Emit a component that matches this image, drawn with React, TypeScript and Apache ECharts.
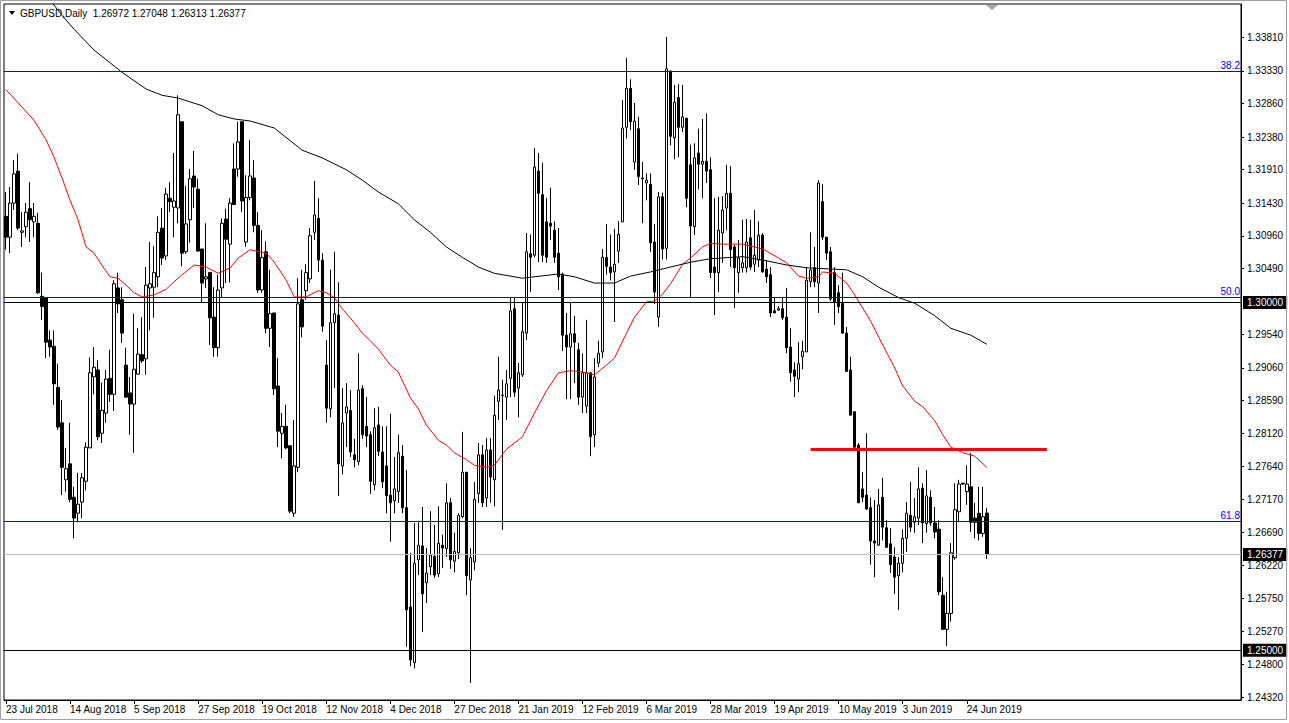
import React, { useEffect, useRef } from "react";
import * as echarts from "echarts";

const symbolName = "GBPUSD,Daily";

const opens = [
  1.3124, 1.3094, 1.3143, 1.3189, 1.3101, 1.3109, 1.3135, 1.3116, 1.3114, 1.3009,
  1.3007, 1.2946, 1.2937, 1.2878, 1.2827, 1.2745, 1.2768, 1.2720, 1.2697, 1.2713,
  1.2743, 1.2791, 1.2893, 1.2903, 1.2812, 1.2841, 1.2891, 1.2868, 1.3021, 1.3004,
  1.2910, 1.2870, 1.2854, 1.2897, 1.2925, 1.2919, 1.3021, 1.3022, 1.3037, 1.3107,
  1.3067, 1.3150, 1.3137, 1.3136, 1.3260, 1.3073, 1.3119, 1.3182, 1.3163, 1.3077,
  1.3034, 1.3043, 1.2979, 1.2935, 1.3021, 1.3120, 1.3084, 1.3192, 1.3192, 1.3260,
  1.3087, 1.3151, 1.3179, 1.3111, 1.3018, 1.3073, 1.2963, 1.2985, 1.2880, 1.2812,
  1.2822, 1.2794, 1.2697, 1.2763, 1.3004, 1.3017, 1.3034, 1.3101, 1.3121, 1.3061,
  1.2910, 1.2847, 1.2971, 1.2982, 1.2765, 1.2841, 1.2845, 1.2781, 1.2771, 1.2876,
  1.2822, 1.2810, 1.2738, 1.2824, 1.2785, 1.2765, 1.2723, 1.2715, 1.2728, 1.2779,
  1.2705, 1.2562, 1.2482, 1.2630, 1.2650, 1.2597, 1.2620, 1.2635, 1.2610, 1.2651,
  1.2646, 1.2712, 1.2628, 1.2640, 1.2692, 1.2756, 1.2601, 1.2627, 1.2725, 1.2781,
  1.2719, 1.2788, 1.2745, 1.2858, 1.2867, 1.2864, 1.2891, 1.2991, 1.2877, 1.2896,
  1.2956, 1.3070, 1.3068, 1.3189, 1.3155, 1.3116, 1.3114, 1.3104, 1.3071, 1.3041,
  1.2953, 1.2936, 1.2955, 1.2932, 1.2864, 1.2851, 1.2899, 1.2810, 1.2913, 1.2929,
  1.3065, 1.3051, 1.3044, 1.3074, 1.3116, 1.3252, 1.3308, 1.3202, 1.3250, 1.3179,
  1.3172, 1.3170, 1.3087, 1.2979, 1.3152, 1.3078, 1.3333, 1.3237, 1.3295, 1.3252,
  1.3265, 1.3198, 1.3109, 1.3215, 1.3199, 1.3203, 1.3191, 1.3051, 1.3043, 1.3100,
  1.3136, 1.3157, 1.3080, 1.3043, 1.3050, 1.3050, 1.3093, 1.3055, 1.3061, 1.3097,
  1.3048, 1.3040, 1.2988, 1.2989, 1.2991, 1.2979, 1.2936, 1.2903, 1.2890, 1.2922,
  1.2929, 1.3030, 1.3050, 1.3028, 1.3145, 1.3094, 1.3073, 1.3043, 1.3014, 1.2999,
  1.2956, 1.2903, 1.2843, 1.2795, 1.2732, 1.2723, 1.2705, 1.2657, 1.2651, 1.2720,
  1.2676, 1.2653, 1.2634, 1.2607, 1.2625, 1.2661, 1.2694, 1.2684, 1.2690, 1.2733,
  1.2682, 1.2720, 1.2683, 1.2674, 1.2579, 1.2530, 1.2553, 1.2633, 1.2699, 1.2740,
  1.2728, 1.2735, 1.2690, 1.2697, 1.2668, 1.26972,
];

const highs = [
  1.3159, 1.3166, 1.3205, 1.3214, 1.3130, 1.3143, 1.3173, 1.3143, 1.3129, 1.3043,
  1.3008, 1.2960, 1.2960, 1.2912, 1.2860, 1.2791, 1.2827, 1.2735, 1.2755, 1.2755,
  1.2799, 1.2921, 1.2936, 1.2917, 1.2885, 1.2903, 1.2932, 1.3032, 1.3043, 1.3022,
  1.2935, 1.2893, 1.2984, 1.2963, 1.2979, 1.3051, 1.3087, 1.3081, 1.3124, 1.3136,
  1.3165, 1.3173, 1.3215, 1.3298, 1.3260, 1.3168, 1.3192, 1.3218, 1.3178, 1.3077,
  1.3114, 1.3043, 1.3022, 1.3040, 1.3121, 1.3135, 1.3150, 1.3229, 1.3260, 1.3260,
  1.3183, 1.3234, 1.3205, 1.3130, 1.3104, 1.3088, 1.3047, 1.2985, 1.2920, 1.2841,
  1.2853, 1.2794, 1.2831, 1.3035, 1.3047, 1.3055, 1.3107, 1.3175, 1.3150, 1.3071,
  1.2946, 1.3047, 1.3073, 1.3029, 1.2877, 1.2884, 1.2874, 1.2804, 1.2927, 1.2881,
  1.2864, 1.2815, 1.2848, 1.2850, 1.2822, 1.2822, 1.2840, 1.2778, 1.2810, 1.2795,
  1.2759, 1.2640, 1.2683, 1.2684, 1.2706, 1.2647, 1.2700, 1.2680, 1.2707, 1.2666,
  1.2740, 1.2719, 1.2669, 1.2697, 1.2814, 1.2756, 1.2647, 1.2742, 1.2798, 1.2795,
  1.2805, 1.2805, 1.2866, 1.2922, 1.2889, 1.2903, 1.3007, 1.3008, 1.2913, 1.3001,
  1.3100, 1.3098, 1.3222, 1.3215, 1.3201, 1.3150, 1.3165, 1.3117, 1.3107, 1.3043,
  1.2985, 1.3001, 1.2981, 1.2942, 1.2927, 1.2975, 1.2899, 1.2920, 1.2945, 1.3077,
  1.3113, 1.3098, 1.3106, 1.3117, 1.3291, 1.3352, 1.3321, 1.3287, 1.3267, 1.3202,
  1.3186, 1.3186, 1.3113, 1.3159, 1.3158, 1.3382, 1.3333, 1.3313, 1.3314, 1.3313,
  1.3265, 1.3227, 1.3229, 1.3250, 1.3264, 1.3272, 1.3209, 1.3150, 1.3152, 1.3153,
  1.3198, 1.3196, 1.3083, 1.3090, 1.3119, 1.3120, 1.3119, 1.3133, 1.3117, 1.3100,
  1.3061, 1.3051, 1.3007, 1.2995, 1.3007, 1.3021, 1.2963, 1.2914, 1.2943, 1.2945,
  1.3051, 1.3101, 1.3080, 1.3176, 1.3170, 1.3094, 1.3080, 1.3051, 1.3025, 1.3043,
  1.2965, 1.2922, 1.2843, 1.2798, 1.2756, 1.2812, 1.2720, 1.2716, 1.2732, 1.2748,
  1.2687, 1.2676, 1.2648, 1.2634, 1.2674, 1.2713, 1.2742, 1.2719, 1.2763, 1.2740,
  1.2759, 1.2730, 1.2706, 1.2687, 1.2605, 1.2584, 1.2654, 1.2740, 1.2745, 1.2741,
  1.2766, 1.2784, 1.2712, 1.2735, 1.2735, 1.27048,
];

const lows = [
  1.3076, 1.3071, 1.3133, 1.3104, 1.3080, 1.3094, 1.3087, 1.3094, 1.3012, 1.2975,
  1.2920, 1.2922, 1.2853, 1.2817, 1.2723, 1.2728, 1.2713, 1.2661, 1.2684, 1.2690,
  1.2730, 1.2791, 1.2868, 1.2802, 1.2798, 1.2827, 1.2857, 1.2844, 1.2985, 1.2942,
  1.2863, 1.2810, 1.2784, 1.2896, 1.2913, 1.2896, 1.2960, 1.2978, 1.3022, 1.3054,
  1.3061, 1.3130, 1.3094, 1.3114, 1.3052, 1.3070, 1.3086, 1.3136, 1.3073, 1.3001,
  1.3021, 1.2939, 1.2922, 1.2922, 1.3008, 1.3028, 1.3029, 1.3140, 1.3181, 1.3130,
  1.3080, 1.3147, 1.3101, 1.3014, 1.3014, 1.2956, 1.2936, 1.2867, 1.2792, 1.2776,
  1.2789, 1.2697, 1.2692, 1.2756, 1.2950, 1.3004, 1.3028, 1.3090, 1.3044, 1.2958,
  1.2827, 1.2835, 1.2877, 1.2722, 1.2753, 1.2792, 1.2778, 1.2763, 1.2766, 1.2804,
  1.2792, 1.2725, 1.2730, 1.2779, 1.2733, 1.2697, 1.2656, 1.2697, 1.2712, 1.2697,
  1.2505, 1.2477, 1.2474, 1.2608, 1.2526, 1.2568, 1.2608, 1.2604, 1.2605, 1.2618,
  1.2634, 1.2617, 1.2612, 1.2631, 1.2690, 1.2579, 1.2453, 1.2615, 1.2712, 1.2706,
  1.2706, 1.2712, 1.2707, 1.2831, 1.2673, 1.2831, 1.2864, 1.2864, 1.2835, 1.2893,
  1.2946, 1.3015, 1.3065, 1.3058, 1.3058, 1.3057, 1.3090, 1.3057, 1.3018, 1.2930,
  1.2861, 1.2861, 1.2884, 1.2853, 1.2841, 1.2841, 1.2779, 1.2792, 1.2907, 1.2920,
  1.3040, 1.3032, 1.2972, 1.3057, 1.3116, 1.3236, 1.3248, 1.3191, 1.3169, 1.3114,
  1.3147, 1.3073, 1.2998, 1.2965, 1.3062, 1.3062, 1.3226, 1.3206, 1.3209, 1.3245,
  1.3137, 1.3008, 1.3097, 1.3163, 1.3150, 1.3172, 1.3035, 1.2982, 1.3015, 1.3057,
  1.3104, 1.3051, 1.2992, 1.3014, 1.3043, 1.3043, 1.3047, 1.3044, 1.3051, 1.3043,
  1.3028, 1.2979, 1.2985, 1.2988, 1.2975, 1.2927, 1.2886, 1.2864, 1.2871, 1.2904,
  1.2929, 1.3022, 1.3022, 1.2985, 1.3090, 1.3061, 1.3002, 1.2968, 1.2985, 1.2955,
  1.2900, 1.2838, 1.2788, 1.2712, 1.2713, 1.2702, 1.2623, 1.2605, 1.2651, 1.2658,
  1.2647, 1.2611, 1.2581, 1.2558, 1.2612, 1.2641, 1.2670, 1.2669, 1.2680, 1.2654,
  1.2669, 1.2679, 1.2661, 1.2579, 1.2530, 1.2506, 1.2541, 1.2630, 1.2684, 1.2738,
  1.2709, 1.2670, 1.2661, 1.2658, 1.2663, 1.26313,
];

const closes = [
  1.3094, 1.3143, 1.3185, 1.3107, 1.3103, 1.3130, 1.3119, 1.3124, 1.3014, 1.2994,
  1.2943, 1.2936, 1.2883, 1.2821, 1.2763, 1.2761, 1.2717, 1.2690, 1.2710, 1.2748,
  1.2792, 1.2899, 1.2907, 1.2807, 1.2845, 1.2890, 1.2868, 1.3027, 1.2998, 1.2956,
  1.2864, 1.2854, 1.2904, 1.2926, 1.2916, 1.3025, 1.3027, 1.3043, 1.3101, 1.3064,
  1.3156, 1.3145, 1.3146, 1.3270, 1.3071, 1.3113, 1.3178, 1.3166, 1.3074, 1.3028,
  1.3037, 1.2978, 1.2935, 1.3018, 1.3114, 1.3091, 1.3143, 1.3141, 1.3231, 1.3146,
  1.3151, 1.3182, 1.3111, 1.3018, 1.3065, 1.2963, 1.2984, 1.2876, 1.2815, 1.2822,
  1.2791, 1.2700, 1.2765, 1.2998, 1.2965, 1.3043, 1.3096, 1.3126, 1.3061, 1.2966,
  1.2848, 1.2971, 1.2984, 1.2768, 1.2827, 1.2850, 1.2785, 1.2774, 1.2874, 1.2810,
  1.2808, 1.2743, 1.2820, 1.2786, 1.2742, 1.2722, 1.2712, 1.2732, 1.2784, 1.2705,
  1.2558, 1.2486, 1.2625, 1.2651, 1.2581, 1.2611, 1.2637, 1.2608, 1.2654, 1.2647,
  1.2712, 1.2630, 1.2642, 1.2694, 1.2756, 1.2607, 1.2633, 1.2717, 1.2781, 1.2712,
  1.2788, 1.2749, 1.2838, 1.2874, 1.2866, 1.2883, 1.2988, 1.2871, 1.2899, 1.2958,
  1.3073, 1.3065, 1.3195, 1.3157, 1.3068, 1.3065, 1.3110, 1.3065, 1.3037, 1.2953,
  1.2936, 1.2955, 1.2943, 1.2864, 1.2899, 1.2899, 1.2807, 1.2893, 1.2927, 1.3065,
  1.3052, 1.3043, 1.3055, 1.3098, 1.3251, 1.3308, 1.3260, 1.3261, 1.3181, 1.3178,
  1.3176, 1.3086, 1.3015, 1.3152, 1.3077, 1.3336, 1.3239, 1.3288, 1.3252, 1.3267,
  1.3150, 1.3110, 1.3208, 1.3199, 1.3203, 1.3189, 1.3043, 1.3043, 1.3104, 1.3133,
  1.3157, 1.3076, 1.3050, 1.3064, 1.3057, 1.3087, 1.3051, 1.3068, 1.3097, 1.3044,
  1.3037, 1.2985, 1.2985, 1.2991, 1.2978, 1.2935, 1.2899, 1.2894, 1.2912, 1.2930,
  1.3032, 1.3047, 1.3030, 1.3172, 1.3094, 1.3071, 1.3005, 1.3001, 1.2994, 1.2956,
  1.2901, 1.2838, 1.2792, 1.2712, 1.2720, 1.2703, 1.2657, 1.2654, 1.2709, 1.2677,
  1.2648, 1.2623, 1.2605, 1.2625, 1.2661, 1.2697, 1.2677, 1.2692, 1.2732, 1.2683,
  1.2722, 1.2683, 1.2670, 1.2584, 1.2530, 1.2553, 1.2640, 1.2702, 1.2739, 1.2739,
  1.2739, 1.2684, 1.2684, 1.2668, 1.2692, 1.26377,
];

// 50-day moving average (red), read at sampled bars
const ma50Idx = [
  0, 4, 7, 10, 12, 14, 16, 18, 20, 22, 24, 26, 28, 30, 32, 34, 37, 40, 42, 44,
  47, 50, 53, 56, 58, 61, 65, 67, 70, 72, 75, 78, 80, 82, 84, 87, 89, 91, 93, 96,
  98, 101, 103, 105, 108, 110, 112, 115, 117, 120, 122, 125, 129, 132, 135, 138, 141, 144, 147, 150,
  152, 155, 157, 160, 162, 164, 166, 169, 171, 174, 176, 179, 184, 189, 193, 195, 198, 200, 203, 204,
  207, 210, 212, 216, 219, 222, 224, 227, 229, 232, 234, 236, 239, 242, 245,
];
const ma50Val = [
  1.3306, 1.3281, 1.3262, 1.3234, 1.3209, 1.3179, 1.3147, 1.3119, 1.3080, 1.3071,
  1.3053, 1.3037, 1.3035, 1.3025, 1.3014, 1.3008, 1.3011, 1.3019, 1.3030, 1.3040,
  1.3054, 1.3051, 1.3042, 1.3050, 1.3064, 1.3076, 1.3071, 1.3058, 1.3032, 1.3008,
  1.3008, 1.3017, 1.3014, 1.3007, 1.2991, 1.2971, 1.2956, 1.2945, 1.2933, 1.2910,
  1.2900, 1.2863, 1.2847, 1.2824, 1.2802, 1.2795, 1.2784, 1.2774, 1.2766, 1.2763,
  1.2766, 1.2789, 1.2807, 1.2841, 1.2873, 1.2899, 1.2902, 1.2900, 1.2896, 1.2910,
  1.2920, 1.2956, 1.2979, 1.3001, 1.3002, 1.3012, 1.3027, 1.3055, 1.3064, 1.3080,
  1.3085, 1.3084, 1.3084, 1.3077, 1.3064, 1.3057, 1.3038, 1.3035, 1.3037, 1.3044,
  1.3042, 1.3028, 1.3011, 1.2973, 1.2939, 1.2906, 1.2880, 1.2858, 1.2850, 1.2830,
  1.2810, 1.2792, 1.2784, 1.2779, 1.2763,
];

// 200-day moving average (black), read at sampled bars
const ma200Idx = [
  11, 14, 17, 22, 29, 35, 39, 43, 49, 53, 57, 61, 67, 74, 79, 85, 89, 93, 98, 102,
  106, 110, 114, 118, 122, 129, 138, 142, 147, 152, 156, 161, 166, 171, 176, 184, 190, 195, 200, 210,
  214, 218, 223, 227, 232, 236, 241, 245,
];
const ma200Val = [
  1.3435, 1.3413, 1.3393, 1.3363, 1.3331, 1.3307, 1.3298, 1.3294, 1.3283, 1.3270,
  1.3264, 1.3261, 1.3251, 1.3219, 1.3208, 1.3191, 1.3176, 1.3159, 1.3142, 1.3119,
  1.3101, 1.3080, 1.3065, 1.3051, 1.3042, 1.3035, 1.3041, 1.3037, 1.3028, 1.3028,
  1.3038, 1.3044, 1.3051, 1.3058, 1.3063, 1.3066, 1.3060, 1.3054, 1.3050, 1.3047,
  1.3037, 1.3022, 1.3007, 1.2999, 1.2981, 1.2963, 1.2953, 1.2940,
];

const dateTickLabels = [
  "23 Jul 2018", "14 Aug 2018", "5 Sep 2018", "27 Sep 2018", "19 Oct 2018", "12 Nov 2018",
  "4 Dec 2018", "27 Dec 2018", "21 Jan 2019", "12 Feb 2019", "6 Mar 2019", "28 Mar 2019",
  "19 Apr 2019", "10 May 2019", "3 Jun 2019", "24 Jun 2019",
];
const BARS_PER_DATE_LABEL = 16;
const SLOT_COUNT = 309;

const priceTicks = [
  1.3381, 1.3333, 1.3286, 1.3238, 1.3191, 1.3143, 1.3096, 1.3049, 1.2954, 1.2906,
  1.2859, 1.2812, 1.2764, 1.2717, 1.2669, 1.2622, 1.2575, 1.2527, 1.248, 1.2432,
];

const fibNames = ["38.2", "50.0", "61.8"];
const fibValues = [1.33322, 1.30072, 1.26851];
const roundLevels = [1.3, 1.25];
const resistanceLevel = 1.27895;
const resistanceFrom = 201;
const resistanceTo = 260;

const Y_MIN = 1.24284;
const Y_MAX = 1.34293;

const FONT = '"Liberation Sans", Arial, sans-serif';

export default function App() {
  const ref = useRef<HTMLDivElement>(null);

  useEffect(() => {
    if (!ref.current) return;
    const chart = echarts.init(ref.current, undefined, { renderer: "svg" });

    const slots = Array.from({ length: SLOT_COUNT }, (_, i) => String(i));
    const candles = opens.map((o, i) => [o, closes[i], lows[i], highs[i]]);
    const last = opens.length - 1;
    const lastPrice = closes[last];
    const isDateTick = (idx: number) =>
      idx % BARS_PER_DATE_LABEL === 0 && idx / BARS_PER_DATE_LABEL < dateTickLabels.length;

    const boxLabel = {
      show: true,
      position: "end",
      distance: 2,
      color: "#fff",
      backgroundColor: "#000",
      padding: [2, 4, 1, 4],
      fontSize: 10,
      fontFamily: FONT,
      formatter: (p: any) => Number(p.value).toFixed(5),
    };

    const levelSeries = (name: string, color: string, width: number, label: any, data: any[], z: number) => ({
      name,
      type: "line",
      data: [],
      silent: true,
      color,
      lineStyle: { color, width },
      markLine: {
        silent: true,
        symbol: ["none", "none"],
        animation: false,
        precision: 5,
        lineStyle: { color, width, type: "solid", opacity: 1 },
        label,
        emphasis: { disabled: true },
        data,
      },
      z,
    });

    const title = `${symbolName}  ${opens[last].toFixed(5)} ${highs[last].toFixed(5)} ${lows[last].toFixed(5)} ${closes[last].toFixed(5)}`;

    chart.setOption({
      animation: false,
      backgroundColor: "#fff",
      textStyle: { fontFamily: FONT },
      grid: {
        left: 4,
        top: 4,
        right: 48,
        bottom: 23,
        show: true,
        borderColor: "#000",
        borderWidth: 1,
        backgroundColor: "#fff",
      },
      xAxis: {
        type: "category",
        data: slots,
        boundaryGap: true,
        axisLine: { show: true, lineStyle: { color: "#000", width: 1 } },
        axisTick: {
          show: true,
          alignWithLabel: true,
          interval: (idx: number) => isDateTick(idx),
          length: 4,
          lineStyle: { color: "#000" },
        },
        axisLabel: {
          interval: (idx: number) => isDateTick(idx),
          formatter: (_v: string, idx: number) => dateTickLabels[idx / BARS_PER_DATE_LABEL] ?? "",
          align: "left",
          color: "#000",
          fontSize: 10,
          fontFamily: FONT,
          margin: 4,
        },
        splitLine: { show: false },
      },
      yAxis: {
        type: "value",
        position: "right",
        min: Y_MIN,
        max: Y_MAX,
        axisLine: { show: true, lineStyle: { color: "#000" } },
        axisTick: { show: true, customValues: priceTicks, length: 3, lineStyle: { color: "#000" } },
        axisLabel: {
          customValues: priceTicks,
          formatter: (v: number) => v.toFixed(5),
          color: "#000",
          fontSize: 10,
          fontFamily: FONT,
          margin: 6,
        },
        splitLine: { show: false },
      },
      series: [
        {
          type: "candlestick",
          data: candles,
          barWidth: 3,
          itemStyle: {
            color: "#ffffff",
            color0: "#000000",
            borderColor: "#000000",
            borderColor0: "#000000",
            borderWidth: 1,
          },
          z: 3,
        },
        {
          type: "line",
          data: ma50Idx.map((i, k) => [i, ma50Val[k]]),
          showSymbol: false,
          lineStyle: { color: "#ff0000", width: 1 },
          itemStyle: { color: "#ff0000" },
          clip: true,
          z: 4,
        },
        {
          type: "line",
          data: ma200Idx.map((i, k) => [i, ma200Val[k]]),
          showSymbol: false,
          lineStyle: { color: "#000000", width: 1 },
          itemStyle: { color: "#000000" },
          clip: true,
          z: 4,
        },
        levelSeries(
          "fib",
          "#0000ff",
          1,
          { show: true, position: "insideEndTop", color: "#0000ff", fontSize: 10, fontFamily: FONT, distance: 1 },
          fibValues.map((v, k) => ({ yAxis: v, label: { formatter: fibNames[k] } })),
          5,
        ),
        levelSeries("round", "#000000", 1, boxLabel, roundLevels.map((v) => ({ yAxis: v })), 6),
        levelSeries("last", "#c0c0c0", 1, boxLabel, [{ yAxis: lastPrice }], 6),
        levelSeries(
          "resistance",
          "#ff0000",
          3,
          { show: false },
          [[{ coord: [resistanceFrom, resistanceLevel] }, { coord: [resistanceTo, resistanceLevel] }]],
          7,
        ),
      ],
      graphic: [
        {
          type: "rect",
          silent: true,
          shape: { x: 0.5, y: 0.5, width: 1286, height: 719 },
          style: { fill: "none", stroke: "#a0a0a0", lineWidth: 1 },
          z: 100,
        },
        {
          type: "polygon",
          silent: true,
          shape: { points: [[9, 11], [15, 11], [12, 15]] },
          style: { fill: "#000" },
          z: 100,
        },
        {
          type: "text",
          silent: true,
          x: 20,
          y: 8,
          style: { text: title, fill: "#000", font: `10px ${FONT}` },
          z: 100,
        },
        {
          type: "polygon",
          silent: true,
          shape: { points: [[986, 5], [998, 5], [992, 10]] },
          style: { fill: "#a0a0a0" },
          z: 100,
        },
      ],
    });

    return () => chart.dispose();
  }, []);

  return (
    <div style={{ position: "fixed", left: 0, top: 0, width: 1289, height: 723, background: "#fff" }}>
      <div ref={ref} style={{ width: 1289, height: 723 }} />
    </div>
  );
}
